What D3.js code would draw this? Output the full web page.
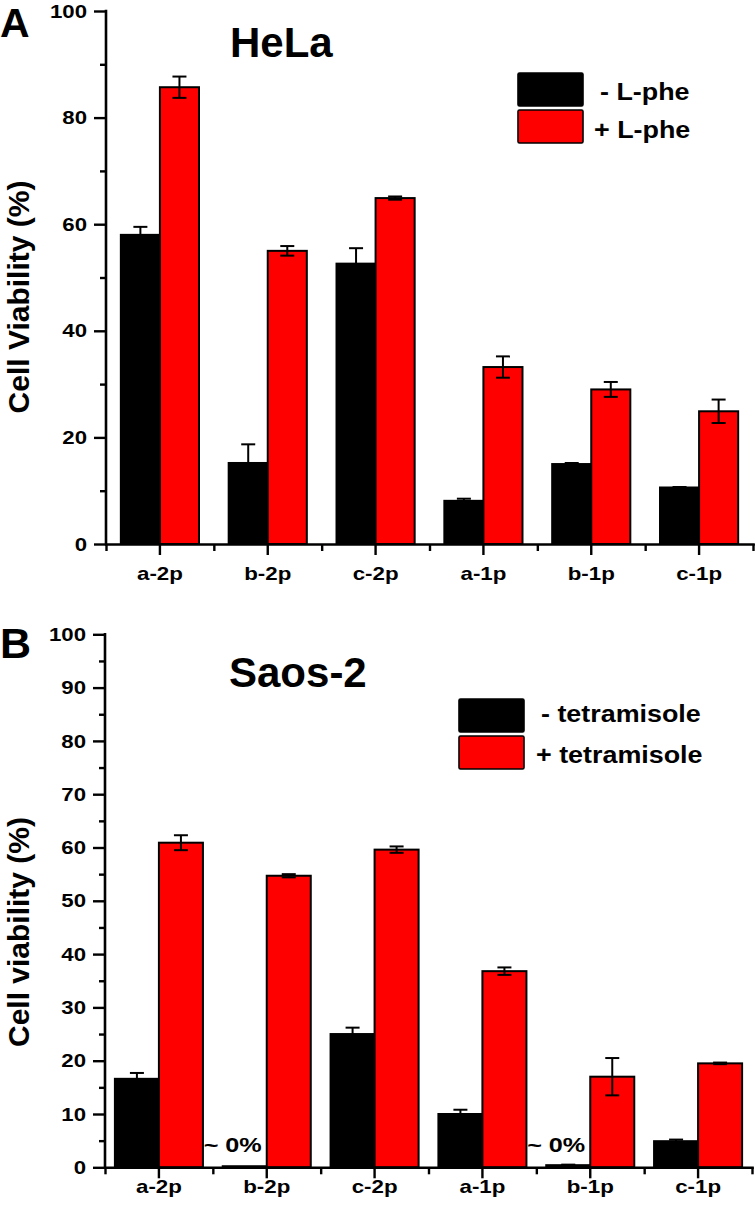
<!DOCTYPE html>
<html>
<head>
<meta charset="utf-8">
<script src="https://cdn.jsdelivr.net/npm/d3@7"></script>
<style>
  html, body { margin: 0; padding: 0; background: #fff; }
  svg text { font-family: "Liberation Sans", Arial, Helvetica, sans-serif; font-weight: bold; fill: #000; }
</style>
</head>
<body>
<svg id="chart" width="756" height="1209"></svg>
<script>
// ---- data ----
const categories = ["a-2p", "b-2p", "c-2p", "a-1p", "b-1p", "c-1p"];

const helaSeries = ["- L-phe", "+ L-phe"];
const helaMinus    = [58.0, 15.2, 52.6, 8.1, 15.0, 10.6];
const helaMinusErr = [1.5, 3.5, 2.9, 0.4, 0.2, 0.1];
const helaPlus     = [85.7, 55.0, 64.9, 33.2, 29.0, 24.9];
const helaPlusErr  = [2.0, 0.9, 0.3, 2.0, 1.4, 2.2];
const helaTicks = [0, 20, 40, 60, 80, 100];
const helaMinorTicks = [10, 30, 50, 70, 90];

const saosSeries = ["- tetramisole", "+ tetramisole"];
const saosMinus    = [16.6, 0.2, 25.0, 10.0, 0.4, 4.9];
const saosMinusErr = [1.1, 0.0, 1.2, 0.8, 0.1, 0.3];
const saosPlus     = [60.9, 54.7, 59.6, 36.8, 17.0, 19.5];
const saosPlusErr  = [1.4, 0.3, 0.6, 0.7, 3.5, 0.15];
const saosTicks = [0, 10, 20, 30, 40, 50, 60, 70, 80, 90, 100];
const saosMinorTicks = [5, 15, 25, 35, 45, 55, 65, 75, 85, 95];
const nearZeroLabels = ["b-2p", "b-1p"];

const colors = ["#000000", "#ff0000"];

const svg = d3.select("#chart");

function drawPanel(cfg) {
  const g = svg.append("g");
  const x = d3.scaleBand().domain(categories).range([cfg.x0, cfg.x1]).padding(0);
  const xb = d3.scaleLinear().domain([0, categories.length]).range([cfg.x0, cfg.x1]);
  const x1 = d3.scaleBand().domain([0, 1]).range([0, x.bandwidth()])
               .paddingInner(0).paddingOuter(cfg.groupPad);
  const y = d3.scaleLinear().domain([0, 100]).range([cfg.yBottom, cfg.yTop]);

  const rows = categories.map((c, i) => ({
    cat: c,
    vals: [
      { s: 0, v: cfg.minus[i], e: cfg.minusErr[i] },
      { s: 1, v: cfg.plus[i], e: cfg.plusErr[i] }
    ]
  }));

  const grp = g.selectAll("g.grp").data(rows).join("g")
    .attr("class", "grp")
    .attr("transform", d => `translate(${x(d.cat)},0)`);

  grp.selectAll("rect").data(d => d.vals).join("rect")
    .attr("x", d => x1(d.s))
    .attr("width", x1.bandwidth())
    .attr("y", d => y(d.v))
    .attr("height", d => y(0) - y(d.v))
    .attr("fill", d => colors[d.s])
    .attr("stroke", "#000")
    .attr("stroke-width", 2);

  // error bars
  const eb = grp.selectAll("g.err").data(d => d.vals.filter(v => v.e > 0)).join("g").attr("class", "err");
  const cap = 7;
  const cx = d => x1(d.s) + x1.bandwidth() / 2;
  eb.append("line")
    .attr("x1", cx).attr("x2", cx)
    .attr("y1", d => y(d.v + d.e)).attr("y2", d => y(d.v - d.e))
    .attr("stroke", "#000").attr("stroke-width", 2);
  eb.append("line")
    .attr("x1", d => cx(d) - cap).attr("x2", d => cx(d) + cap)
    .attr("y1", d => y(d.v + d.e)).attr("y2", d => y(d.v + d.e))
    .attr("stroke", "#000").attr("stroke-width", 2);
  eb.append("line")
    .attr("x1", d => cx(d) - cap).attr("x2", d => cx(d) + cap)
    .attr("y1", d => y(d.v - d.e)).attr("y2", d => y(d.v - d.e))
    .attr("stroke", "#000").attr("stroke-width", 2);

  // y axis (lines from d3 axis, labels drawn explicitly from the same scale)
  const yMinor = g.append("g").attr("transform", `translate(${cfg.x0},0)`)
    .call(d3.axisLeft(y).tickValues(cfg.minorTicks).tickSize(6).tickSizeOuter(0).tickFormat(""));
  yMinor.select(".domain").remove();
  const yAx = g.append("g").attr("transform", `translate(${cfg.x0},0)`)
    .call(d3.axisLeft(y).tickValues(cfg.ticks).tickSize(12).tickSizeOuter(0).tickFormat(""));
  g.selectAll("g.ylab").data(cfg.ticks).join("g")
    .attr("class", "ylab")
    .attr("transform", d => `translate(${cfg.x0 - 19},${y(d) + 6.6}) scale(1.2,1)`)
    .append("text")
    .attr("text-anchor", "end")
    .style("font-size", "18.5px")
    .text(d => d);

  // x axis
  const xMinor = g.append("g").attr("transform", `translate(0,${cfg.yBottom})`)
    .call(d3.axisBottom(xb).tickValues(d3.range(categories.length + 1)).tickSize(7).tickSizeOuter(0).tickFormat(""));
  xMinor.select(".domain").remove();
  const xAx = g.append("g").attr("transform", `translate(0,${cfg.yBottom})`)
    .call(d3.axisBottom(x).tickSize(11).tickSizeOuter(0).tickFormat(""));
  g.selectAll("g.xlab").data(categories).join("g")
    .attr("class", "xlab")
    .attr("transform", d => `translate(${x(d) + x.bandwidth() / 2},${cfg.yBottom + cfg.catBase}) scale(1.24,1)`)
    .append("text")
    .attr("text-anchor", "middle")
    .style("font-size", "18px")
    .text(d => d);

  g.selectAll(".domain").attr("stroke-width", 2.6).attr("stroke-linecap", "square");
  g.selectAll(".tick line").attr("stroke-width", 2.4);
  yAx.select(".domain").attr("d", `M0,${cfg.yBottom}V${cfg.yTop}`);

  // y label
  g.append("text")
    .attr("transform", `translate(29,${cfg.yLabelCenter}) rotate(-90)`)
    .attr("text-anchor", "middle")
    .style("font-size", "30px")
    .text(cfg.yLabel);

  // panel letter & title
  g.append("text").attr("x", 0).attr("y", cfg.letterBase).style("font-size", cfg.letterSize).text(cfg.letter);
  g.append("text").attr("x", cfg.titleX).attr("y", cfg.titleBase).style("font-size", "42px").text(cfg.title);

  // legend
  cfg.series.forEach((s, i) => {
    g.append("rect")
      .attr("x", cfg.legX).attr("y", cfg.legY[i])
      .attr("width", 65).attr("height", 33).attr("rx", 1.5)
      .attr("fill", colors[i]).attr("stroke", "#000").attr("stroke-width", 1.6);
    g.append("g")
      .attr("transform", `translate(${cfg.legTextX[i]},${cfg.legTextBase[i]}) scale(1.12,1)`)
      .append("text").style("font-size", "24px").text(s);
  });

  if (cfg.nearZero) {
    g.selectAll("g.nz").data(cfg.nearZero).join("g")
      .attr("class", "nz")
      .attr("transform", c => `translate(${x(c) + x.bandwidth() / 2 - 5},${cfg.nearZeroBase}) scale(1.2,1)`)
      .append("text")
      .attr("text-anchor", "end")
      .style("font-size", "21px")
      .text("~ 0%");
  }
}

drawPanel({
  x0: 106, x1: 753, yTop: 11, yBottom: 544, groupPad: 0.38,
  minus: helaMinus, minusErr: helaMinusErr, plus: helaPlus, plusErr: helaPlusErr,
  ticks: helaTicks, minorTicks: helaMinorTicks, catBase: 36,
  yLabel: "Cell Viability (%)", yLabelCenter: 297,
  letter: "A", letterBase: 37, letterSize: "41px",
  title: "HeLa", titleX: 230, titleBase: 57,
  series: helaSeries, legX: 518, legY: [73, 110],
  legTextX: [600, 594], legTextBase: [100, 138]
});

drawPanel({
  x0: 105, x1: 752, yTop: 634.3, yBottom: 1167.3, groupPad: 0.225,
  minus: saosMinus, minusErr: saosMinusErr, plus: saosPlus, plusErr: saosPlusErr,
  ticks: saosTicks, minorTicks: saosMinorTicks, catBase: 25.5,
  yLabel: "Cell viability (%)", yLabelCenter: 932,
  letter: "B", letterBase: 658, letterSize: "43px",
  title: "Saos-2", titleX: 229, titleBase: 687,
  series: saosSeries, legX: 459, legY: [699, 736],
  legTextX: [541, 536], legTextBase: [722, 763],
  nearZero: nearZeroLabels, nearZeroBase: 1152
});
</script>
</body>
</html>
